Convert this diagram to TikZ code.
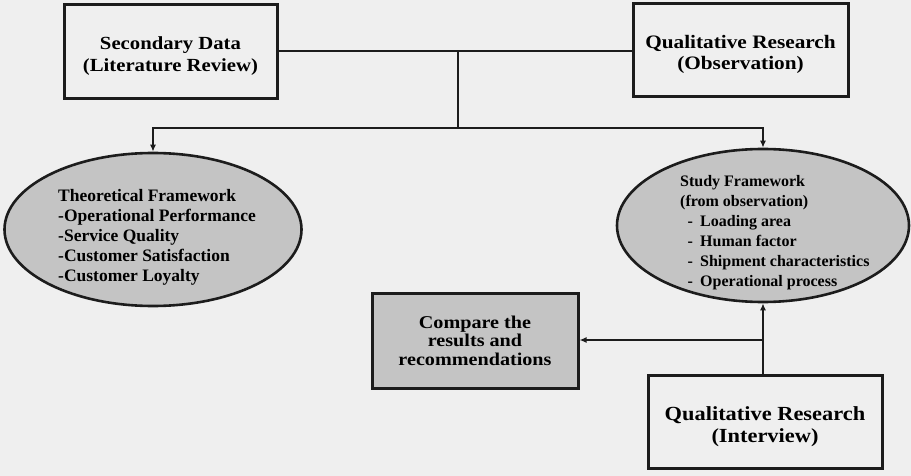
\documentclass[tikz,border=0pt]{standalone}
\usepackage{fontspec}
\setmainfont{Liberation Serif}
\newfontfamily\widefont[FakeStretch=1.12]{Liberation Serif}
\usetikzlibrary{arrows.meta,shapes.geometric}
\definecolor{paper}{HTML}{EFEFEF}
\definecolor{ink}{HTML}{1C1C1C}
\definecolor{shade}{HTML}{C4C4C4}
\newcommand{\fsz}[2]{\fontsize{#1}{#2}\selectfont}
\tikzset{
  box/.style={draw=ink, line width=3pt, fill=paper, rectangle, inner sep=0pt, align=center},
  oval/.style={draw=ink, line width=2.6pt, fill=shade, ellipse, inner sep=0pt},
  ovaltext/.style={anchor=west, align=left, inner sep=0pt},
  conn/.style={draw=ink, line width=2.2pt},
  arr/.style={conn, -{Latex[length=7pt,width=6pt]}},
}
\begin{document}
\begin{tikzpicture}[x=1pt,y=-1pt]
\fill[paper] (0,0) rectangle (911,476);
\useasboundingbox (0,0) rectangle (911,476);
% boxes
\node[box, minimum width=213pt, minimum height=94pt, font=\widefont\bfseries\fsz{18.5}{22}] (sec) at (170.5,52)
  {\widefont\bfseries\fsz{18.5}{22}\rule{0pt}{21pt}Secondary Data\\(Literature Review)};
\node[box, minimum width=215pt, minimum height=93pt, font=\widefont\bfseries\fsz{19}{21}] (obs) at (740.5,50.5)
  {\widefont\bfseries\fsz{19}{21}\rule{0pt}{22pt}Qualitative Research\\(Observation)};
\node[box, fill=shade, minimum width=206pt, minimum height=95pt, font=\widefont\bfseries\fsz{18}{18.5}] (cmp) at (475,340.5)
  {\widefont\bfseries\fsz{18}{18.5}Compare the\\results and\\recommendations};
\node[box, minimum width=234pt, minimum height=93pt, font=\widefont\bfseries\fsz{20}{22}] (intv) at (765,421.5)
  {\widefont\bfseries\fsz{20}{22}\rule{0pt}{25pt}Qualitative Research\\(Interview)};
% ellipses
\node[oval, minimum width=297pt, minimum height=153pt] (theo) at (153,229.5) {};
\node[ovaltext, font=\bfseries\fsz{17.5}{20}] (theotxt) at (58,237)
  {\bfseries\fsz{17.5}{20}Theoretical Framework\\-Operational Performance\\-Service Quality\\-Customer Satisfaction\\-Customer Loyalty};
\node[oval, minimum width=292pt, minimum height=153pt] (study) at (763,225.5) {};
\node[ovaltext, font=\bfseries\fsz{16}{20}] (studytxt) at (680,233)
  {\bfseries\fsz{16}{20}Study Framework\\(from observation)\\
   \makebox[20pt][c]{-}Loading area\\
   \makebox[20pt][c]{-}Human factor\\
   \makebox[20pt][c]{-}Shipment characteristics\\
   \makebox[20pt][c]{-}Operational process};
% connectors
\coordinate (j1) at (458,51);
\coordinate (j2) at (458,128);
\coordinate (jl) at (153,128);
\coordinate (jr) at (763,128);
\coordinate (jc) at (763,340);
\draw[conn] (sec.east |- j1) -- (obs.west |- j1);
\draw[conn] (j1) -- (j2);
\draw[conn, line cap=rect] (jl) -- (jr);
\draw[arr] (jl) -- (theo.north);
\draw[arr] (jr) -- (study.north);
\draw[arr] (jr |- intv.north) -- (study.south);
\draw[arr] (jc) -- (cmp.east |- jc);
\end{tikzpicture}
\end{document}
